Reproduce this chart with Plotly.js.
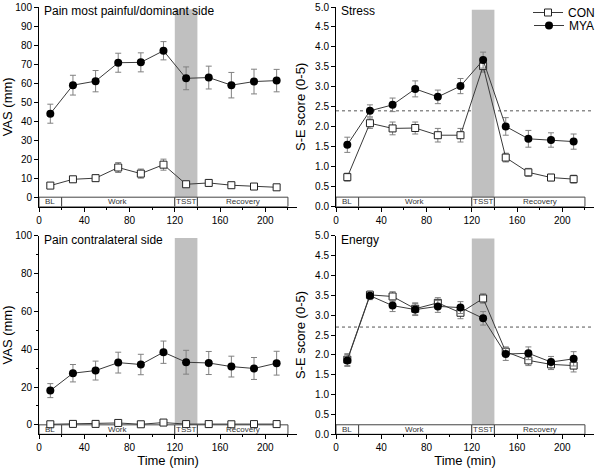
<!DOCTYPE html>
<html>
<head>
<meta charset="utf-8">
<script src="https://cdn.plot.ly/plotly-3.0.1.min.js"></script>
<style>html,body{margin:0;padding:0;background:#fff;}#chart{width:600px;height:468px;}</style>
</head>
<body>
<div id="chart"></div>
<script>
// ---- data ----
const time = [10, 30, 50, 70, 90, 110, 130, 150, 170, 190, 210];

const painDomMya    = [43.9, 58.9, 61.0, 70.7, 70.9, 77.0, 62.5, 62.9, 58.9, 60.8, 61.3];
const painDomMyaErr = [5.0, 5.2, 5.6, 5.0, 5.0, 4.8, 6.0, 6.0, 6.7, 6.5, 5.9];
const painDomCon    = [6.1, 9.4, 10.0, 15.6, 12.4, 17.1, 6.8, 7.5, 6.3, 5.6, 5.2];
const painDomConErr = [1.0, 1.5, 1.6, 2.6, 2.4, 2.9, 1.0, 1.0, 1.0, 0.8, 0.8];

const stressMya    = [1.55, 2.40, 2.55, 2.95, 2.75, 3.02, 3.67, 2.01, 1.70, 1.67, 1.63];
const stressMyaErr = [0.19, 0.15, 0.17, 0.20, 0.17, 0.19, 0.20, 0.22, 0.21, 0.18, 0.19];
const stressCon    = [0.74, 2.09, 1.96, 1.97, 1.79, 1.79, 3.52, 1.23, 0.86, 0.73, 0.69];
const stressConErr = [0.10, 0.13, 0.16, 0.15, 0.17, 0.17, 0.15, 0.11, 0.10, 0.08, 0.10];

const painConMya    = [18.1, 27.3, 28.7, 32.9, 31.9, 38.4, 33.1, 32.7, 30.8, 29.8, 32.6];
const painConMyaErr = [3.7, 4.6, 5.0, 5.5, 5.4, 5.9, 6.3, 6.1, 5.5, 5.8, 6.3];
const painConCon    = [0.3, 0.5, 0.5, 1.0, 0.3, 1.2, 0.4, 0.4, 0.3, 0.4, 0.4];
const painConConErr = [0.5, 0.5, 0.5, 1.0, 0.5, 1.0, 0.5, 0.5, 0.5, 0.5, 0.5];

const energyMya    = [1.86, 3.49, 3.24, 3.14, 3.22, 3.19, 2.92, 2.02, 2.04, 1.82, 1.90];
const energyMyaErr = [0.15, 0.10, 0.15, 0.15, 0.15, 0.15, 0.17, 0.16, 0.16, 0.14, 0.18];
const energyCon    = [1.88, 3.51, 3.47, 3.16, 3.31, 3.06, 3.42, 2.08, 1.86, 1.76, 1.73];
const energyConErr = [0.15, 0.10, 0.12, 0.15, 0.13, 0.15, 0.12, 0.12, 0.13, 0.13, 0.16];

const phaseNames = ['BL', 'Work', 'TSST', 'Recovery'];
const phaseStart = [0, 20, 120, 140];
const phaseEnd   = [20, 120, 140, 220];
const tsstStart = 120, tsstEnd = 140;
const stressRef = 2.4;
const energyRef = 2.7;

const panelTitles = ['Pain most painful/dominant side', 'Stress', 'Pain contralateral side', 'Energy'];
const seriesNames = ['CON', 'MYA'];

// ---- styling / layout ----
const FONT = 'Liberation Sans, Arial, sans-serif';
const lineCol = '#3a3a3a';
const errCol = '#808080';

function conTrace(y, err, xa, ya, showLegend) {
  return {
    x: time, y: y, xaxis: xa, yaxis: ya, name: seriesNames[0], legendgroup: 'con', legend: 'legend',
    showlegend: showLegend, type: 'scatter', mode: 'lines+markers',
    line: {color: lineCol, width: 1},
    marker: {symbol: 'square', size: 7, color: '#ffffff', line: {color: '#222', width: 1}},
    error_y: {type: 'data', array: err, visible: true, color: errCol, thickness: 1, width: 3}
  };
}
function myaTrace(y, err, xa, ya, showLegend) {
  return {
    x: time, y: y, xaxis: xa, yaxis: ya, name: seriesNames[1], legendgroup: 'mya', legend: 'legend2',
    showlegend: showLegend, type: 'scatter', mode: 'lines+markers',
    line: {color: lineCol, width: 1},
    marker: {symbol: 'circle', size: 8, color: '#000000', line: {color: '#000', width: 0}},
    error_y: {type: 'data', array: err, visible: true, color: errCol, thickness: 1, width: 3}
  };
}

const traces = [
  conTrace(painDomCon, painDomConErr, 'x', 'y', false),
  myaTrace(painDomMya, painDomMyaErr, 'x', 'y', false),
  conTrace(stressCon, stressConErr, 'x2', 'y2', true),
  myaTrace(stressMya, stressMyaErr, 'x2', 'y2', true),
  conTrace(painConCon, painConConErr, 'x3', 'y3', false),
  myaTrace(painConMya, painConMyaErr, 'x3', 'y3', false),
  conTrace(energyCon, energyConErr, 'x4', 'y4', false),
  myaTrace(energyMya, energyMyaErr, 'x4', 'y4', false)
];

const W = 600, H = 468;
const colX = [[39, 297], [336, 594]];
const rowY = [[7, 206.7], [235.7, 434.3]];
function xd(c) { return [colX[c][0] / W, colX[c][1] / W]; }
function yd(r) { return [1 - rowY[r][1] / H, 1 - rowY[r][0] / H]; }

const xRange = [0, 228];
function xaxisDef(c, r, anchor, showTitle) {
  return {
    domain: xd(c), anchor: anchor, range: xRange, showgrid: false, zeroline: false,
    showline: true, linecolor: '#000', linewidth: 1, ticks: 'outside', ticklen: 4, tickcolor: '#000',
    tick0: 0, dtick: 40, minor: {dtick: 20, ticks: 'outside', ticklen: 2, tickcolor: '#000', showgrid: false},
    tickfont: {family: FONT, size: 10, color: '#000'},
    title: showTitle ? {text: 'Time (min)', font: {family: FONT, size: 13, color: '#000'}, standoff: 8} : {text: ''}
  };
}
function yaxisDef(r, c, anchor, range, dtick, minor, title, fmt) {
  const ax = {
    domain: yd(r), anchor: anchor, range: range, showgrid: false, zeroline: false,
    showline: true, linecolor: '#000', linewidth: 1, ticks: 'outside', ticklen: 4, tickcolor: '#000',
    tick0: 0, dtick: dtick, tickformat: fmt || '',
    tickfont: {family: FONT, size: 10, color: '#000'},
    title: {text: title, font: {family: FONT, size: 13, color: '#000'}, standoff: 6}
  };
  if (minor) ax.minor = {dtick: minor, ticks: 'outside', ticklen: 2, tickcolor: '#000', showgrid: false};
  return ax;
}

const legendFont = {family: FONT, size: 12, color: '#000'};
const layout = {
  width: W, height: H, margin: {l: 0, r: 0, t: 0, b: 0, autoexpand: false},
  paper_bgcolor: '#fff', plot_bgcolor: '#fff',
  font: {family: FONT, color: '#000'},
  xaxis: xaxisDef(0, 0, 'y', false),
  yaxis: yaxisDef(0, 0, 'x', [-5, 100], 10, null, 'VAS (mm)'),
  xaxis2: xaxisDef(1, 0, 'y2', false),
  yaxis2: yaxisDef(0, 1, 'x2', [0, 5], 0.5, null, 'S-E score (0-5)', '.1f'),
  xaxis3: xaxisDef(0, 1, 'y3', true),
  yaxis3: yaxisDef(1, 0, 'x3', [-5, 100], 20, 10, 'VAS (mm)'),
  xaxis4: xaxisDef(1, 1, 'y4', true),
  yaxis4: yaxisDef(1, 1, 'x4', [0, 5], 0.5, null, 'S-E score (0-5)', '.1f'),
  showlegend: true,
  legend: {x: 1, xanchor: 'right', y: 1 - 12.5 / H, yanchor: 'middle', bgcolor: 'rgba(0,0,0,0)',
           font: legendFont, itemwidth: 30},
  legend2: {x: 1, xanchor: 'right', y: 1 - 25.5 / H, yanchor: 'middle', bgcolor: 'rgba(0,0,0,0)',
           font: legendFont, itemwidth: 30},
  shapes: [], annotations: []
};

// panel configuration: axis ids, phase-box vertical extent, band top, ref line
const panels = [
  {xa: 'x', ya: 'y', box: [-5, 0], bandTop: 98.8, ref: null},
  {xa: 'x2', ya: 'y2', box: [0, 0.24], bandTop: 4.93, ref: stressRef},
  {xa: 'x3', ya: 'y3', box: [-5, 0], bandTop: 98.8, ref: null},
  {xa: 'x4', ya: 'y4', box: [0, 0.24], bandTop: 4.93, ref: energyRef}
];

panels.forEach((p, i) => {
  // TSST shaded band
  layout.shapes.push({type: 'rect', xref: p.xa, yref: p.ya, x0: tsstStart, x1: tsstEnd,
    y0: p.box[1], y1: p.bandTop, fillcolor: '#c0c0c0', line: {width: 0}, layer: 'below'});
  // phase box
  phaseNames.forEach((nm, k) => {
    layout.shapes.push({type: 'rect', xref: p.xa, yref: p.ya, x0: phaseStart[k], x1: phaseEnd[k],
      y0: p.box[0], y1: p.box[1], fillcolor: '#ffffff', line: {color: '#444', width: 1}, layer: 'below'});
    layout.annotations.push({xref: p.xa, yref: p.ya, x: (phaseStart[k] + phaseEnd[k]) / 2,
      y: (p.box[0] + p.box[1]) / 2, text: nm, showarrow: false,
      font: {family: FONT, size: 8, color: '#333'}, yanchor: 'middle'});
  });
  // dotted reference line
  if (p.ref !== null) {
    layout.shapes.push({type: 'line', xref: p.xa + ' domain', yref: p.ya, x0: 0, x1: 1,
      y0: p.ref, y1: p.ref, line: {color: '#555', width: 1, dash: 'dot'}, layer: 'below'});
  }
  // panel title
  layout.annotations.push({xref: p.xa + ' domain', yref: p.ya + ' domain', x: 0.01, y: 1.025,
    xanchor: 'left', yanchor: 'top', text: panelTitles[i], showarrow: false,
    font: {family: FONT, size: 12, color: '#000'}});
});

Plotly.newPlot('chart', traces, layout, {displayModeBar: false, staticPlot: true});
</script>
</body>
</html>
